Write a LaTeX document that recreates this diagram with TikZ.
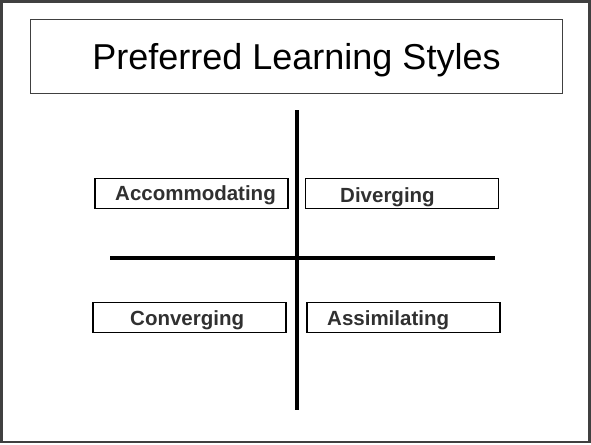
\documentclass[tikz,border=0pt]{standalone}
\usepackage{fontspec}
\setmainfont{Liberation Sans}
\definecolor{ink}{HTML}{303030}
\definecolor{rule}{HTML}{404040}
\begin{document}
\begin{tikzpicture}[x=1pt,y=-1pt,
  frame/.style={draw=rule,line width=2.5pt},
  titlebox/.style={draw=rule,line width=1pt,minimum width=532pt,minimum height=74pt,inner sep=0pt},
  titletext/.style={font=\fontsize{36}{40}\selectfont,anchor=base,inner sep=0pt},
  stylebox/.style={draw=black,line width=1.6pt,minimum width=193pt,minimum height=30pt,inner sep=0pt},
  stylelabel/.style={font=\fontsize{20.5}{24}\selectfont\bfseries,text=ink,anchor=base west,inner sep=0pt},
  axis/.style={line width=4.5pt,black}]
\useasboundingbox (0,0) rectangle (591,444);
% outer frame
\draw[frame] (1.5,1.5) rectangle (589.5,442.2);
% heading
\node[titlebox] (tbox) at (296,56.5) {};
\node[titletext] (title) at (296.5,69) {Preferred Learning Styles};
% axes
\coordinate (vtop) at (297,110);
\coordinate (vbot) at (297,410);
\coordinate (hleft) at (110,258);
\coordinate (hright) at (495,258);
\draw[axis] (vtop) -- (vbot);
\draw[axis] (hleft) -- (hright);
% quadrant boxes
\node[stylebox] (acc) at (191.5,193.5) {};
\node[stylebox] (div) at (402,193.5) {};
\node[stylebox] (con) at (189.5,317.5) {};
\node[stylebox] (ass) at (403.5,317.5) {};
% quadrant labels
\node[stylelabel] (acct) at (115,200) {Accommodating};
\node[stylelabel] (divt) at (340,202) {Diverging};
\node[stylelabel] (cont) at (130,325) {Converging};
\node[stylelabel] (asst) at (327,325) {Assimilating};
\end{tikzpicture}
\end{document}
